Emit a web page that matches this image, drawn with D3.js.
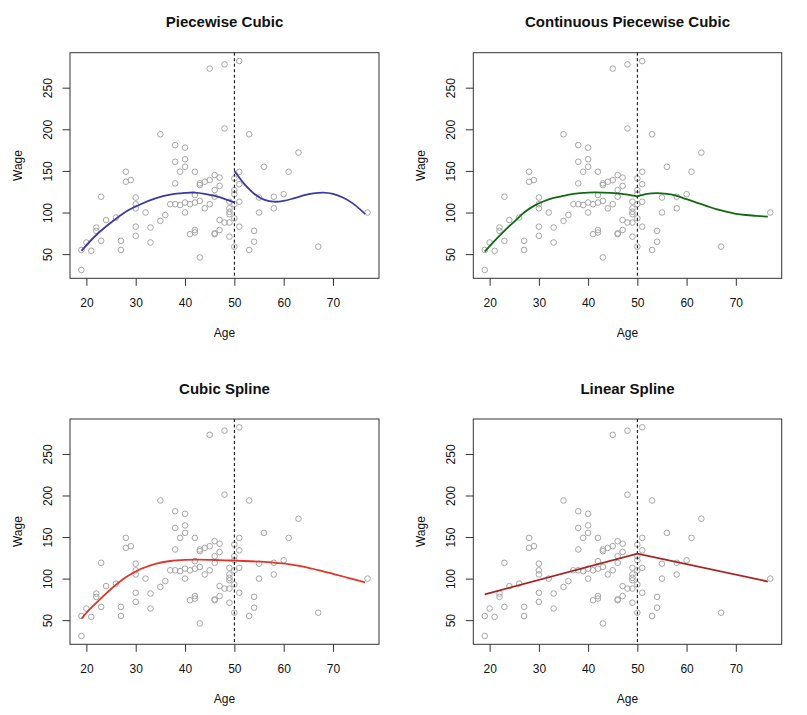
<!DOCTYPE html>
<html><head><meta charset="utf-8">
<script src="https://cdn.jsdelivr.net/npm/d3@7/dist/d3.min.js"></script>
<style>
body{margin:0;background:#fff}
text{font-family:"Liberation Sans",Arial,Helvetica,sans-serif}
</style>
</head><body>
<svg id="c" width="807" height="715"></svg>
<script>
// ---- data ----
const ages  = [19,19,20,21,22,22,23,23,24,26,27,27,28,28,29,30,30,30,30,30,32,33,33,35,35,36,37,38,38,38,38,39,39,40,40,40,40,40,41,41,42,42,42,42,42,43,43,43,43,44,44,45,45,45,46,46,46,46,46,47,47,47,47,48,48,48,49,49,49,49,49,49,50,50,50,50,50,50,51,51,51,51,51,53,53,54,54,55,55,56,58,58,60,61,63,67,77];
const wages = [31,55,64,54,82,78,66,119,91,94,66,55,149,137,139,118,110,105,83,72,100,82,64,194,90,97,110,181,161,135,110,149,109,178,164,155,112,100,110,74,149,121,112,79,76,46,135,133,114,137,105,273,139,110,145,127,119,74,75,142,132,91,79,278,201,88,113,105,101,98,88,71,141,127,122,110,93,59,282,149,134,113,83,194,55,78,65,118,100,155,119,105,122,149,172,59,100];

const knot = 50;
const xTicks = [20,30,40,50,60,70];
const yTicks = [50,100,150,200,250];
const titles = ["Piecewise Cubic","Continuous Piecewise Cubic","Cubic Spline","Linear Spline"];

// fitted curves, [age, wage]
const pwCubicLeft  = [[19,54],[22,73],[25,88],[28,101],[31,110],[34,117],[37,121.5],[40,123.5],[42,124],[44,122.5],[46,120],[48,116.5],[50,112]];
const pwCubicRight = [[50,150],[51,142],[52,134.5],[53,128],[54,122.5],[55,118.5],[56,115.5],[58,113],[60,114],[62,117],[64,120.5],[66,123],[68,124],[70,122.5],[72,118],[74,111],[76,101],[76.5,98]];
const contLeft     = [[19,53],[21,66],[23,78],[25,89],[27,100],[29,108],[31,113.5],[33,117.5],[35,120],[37,122.5],[40,124],[43,124],[46,123],[48,121.5],[50,119.5]];
const contRight    = [[50,119.5],[52,122.5],[54,123.3],[56,122.3],[58,120],[60,116],[62,112],[64,108],[66,104],[68,101],[70,98.5],[72,97],[74,96],[76.5,95]];
const cubicSpline  = [[19,52],[21,65],[23,76.5],[25,87.5],[28,101.5],[31,111.5],[34,117.8],[37,121.2],[40,122.6],[43,122.8],[46,122.4],[49,121.8],[52,121.2],[55,120.4],[58,119.3],[61,117.5],[64,114.5],[67,110.2],[70,105.8],[73,101],[76.5,95.6]];
const linearSpline = [[19,81],[50,130],[76.5,96.5]];

// ---- layout ----
const cols = [{l:70,r:379},{l:473.3,r:781.7}];
const rows = [{t:52.7,b:278.3},{t:419,b:644.3}];
const curveSets = [
  {segs:[pwCubicLeft,pwCubicRight], color:"#3d3a9f", smooth:true},
  {segs:[contLeft,contRight], color:"#0f6b12", smooth:true},
  {segs:[cubicSpline], color:"#e1352a", smooth:true},
  {segs:[linearSpline], color:"#a82424", smooth:false}
];

const pts = ages.map((a,i)=>[a,wages[i]]);
const xe = d3.extent(ages), ye = d3.extent(wages);
const xp = (xe[1]-xe[0])*0.04, yp = (ye[1]-ye[0])*0.04;
const xDom = [xe[0]-xp, xe[1]+xp], yDom = [ye[0]-yp, ye[1]+yp];

const svg = d3.select("#c");
const FONT = '"Liberation Sans",Arial,Helvetica,sans-serif';

titles.forEach((title,i)=>{
  const c = cols[i%2], rw = rows[Math.floor(i/2)];
  const x = d3.scaleLinear().domain(xDom).range([c.l,c.r]);
  const y = d3.scaleLinear().domain(yDom).range([rw.b,rw.t]);
  const g = svg.append("g");

  // points
  g.append("g").selectAll("circle").data(pts).join("circle")
    .attr("cx",d=>x(d[0])).attr("cy",d=>y(d[1])).attr("r",2.8)
    .attr("fill","none").attr("stroke","#a6a6a6").attr("stroke-width",1);

  // knot line
  g.append("line").attr("x1",x(knot)).attr("x2",x(knot)).attr("y1",rw.t).attr("y2",rw.b)
    .attr("stroke","#000").attr("stroke-width",1).attr("stroke-dasharray","3,2.5");

  // curves
  const cs = curveSets[i];
  const line = d3.line().x(d=>x(d[0])).y(d=>y(d[1]))
    .curve(cs.smooth ? d3.curveCatmullRom.alpha(0.5) : d3.curveLinear);
  cs.segs.forEach(s=>{
    g.append("path").attr("d",line(s)).attr("fill","none")
      .attr("stroke",cs.color).attr("stroke-width",1.8);
  });

  // box
  g.append("rect").attr("x",c.l).attr("y",rw.t).attr("width",c.r-c.l).attr("height",rw.b-rw.t)
    .attr("fill","none").attr("stroke","#333").attr("stroke-width",1);

  // x axis
  const gx = g.append("g").attr("transform",`translate(0,${rw.b})`)
    .call(d3.axisBottom(x).tickValues(xTicks).tickSize(7.5).tickSizeOuter(0).tickPadding(12.4));
  gx.select(".domain").remove();
  gx.attr("font-size",12).attr("font-family",FONT);
  gx.selectAll("line").attr("stroke","#333");
  gx.selectAll("text").attr("fill","#111");

  // y axis
  const gy = g.append("g").attr("transform",`translate(${c.l},0)`)
    .call(d3.axisLeft(y).tickValues(yTicks).tickSize(7.5).tickSizeOuter(0));
  gy.select(".domain").remove();
  gy.attr("font-size",12).attr("font-family",FONT);
  gy.selectAll("line").attr("stroke","#333");
  gy.selectAll("text").attr("x",0).attr("dy",0).attr("text-anchor","middle")
    .attr("transform","translate(-18.5,0) rotate(-90)").attr("fill","#111");

  // titles and labels
  g.append("text").attr("x",(c.l+c.r)/2).attr("y",rw.t-25.4).attr("text-anchor","middle")
    .attr("font-size",15).attr("font-weight","bold").attr("fill","#111").text(title);
  g.append("text").attr("x",(c.l+c.r)/2).attr("y",rw.b+58.4).attr("text-anchor","middle")
    .attr("font-size",12).attr("fill","#111").text("Age");
  g.append("text").attr("transform",`translate(${c.l-48},${(rw.t+rw.b)/2}) rotate(-90)`)
    .attr("text-anchor","middle").attr("font-size",12).attr("fill","#111").text("Wage");
});
</script>
</body></html>
